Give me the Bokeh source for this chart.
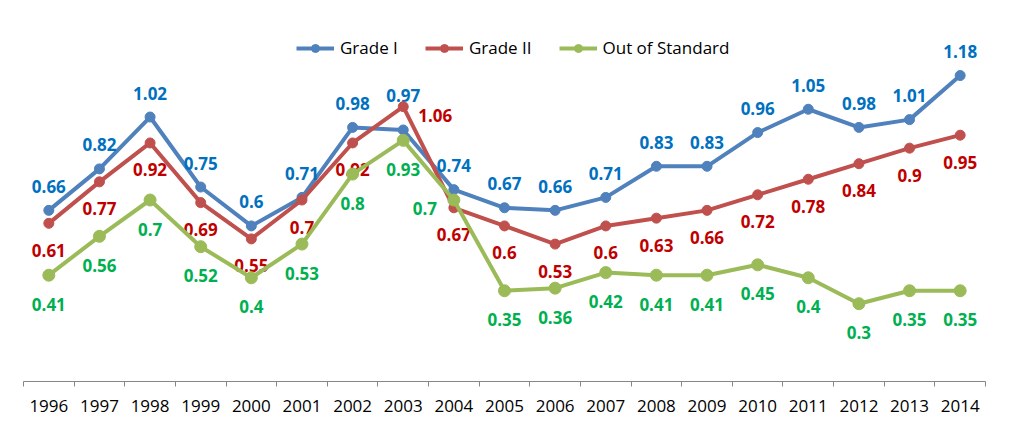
from bokeh.plotting import figure
from bokeh.models import Range1d, FixedTicker, ColumnDataSource, Legend, LegendItem
from bokeh.core.properties import value
from bokeh.embed import file_html
from bokeh.resources import INLINE

years = ["1996", "1997", "1998", "1999", "2000", "2001", "2002", "2003", "2004", "2005",
         "2006", "2007", "2008", "2009", "2010", "2011", "2012", "2013", "2014"]
grade_1 = [0.66, 0.82, 1.02, 0.75, 0.6, 0.71, 0.98, 0.97, 0.74, 0.67,
           0.66, 0.71, 0.83, 0.83, 0.96, 1.05, 0.98, 1.01, 1.18]
grade_2 = [0.61, 0.77, 0.92, 0.69, 0.55, 0.7, 0.92, 1.06, 0.67, 0.6,
           0.53, 0.6, 0.63, 0.66, 0.72, 0.78, 0.84, 0.9, 0.95]
out_std = [0.41, 0.56, 0.7, 0.52, 0.4, 0.53, 0.8, 0.93, 0.7, 0.35,
           0.36, 0.42, 0.41, 0.41, 0.45, 0.4, 0.3, 0.35, 0.35]

FONT = "Open Sans"
n = len(years)
xs = [i + 0.5 for i in range(n)]

p = figure(width=1009, height=438, x_range=Range1d(0, n), y_range=Range1d(0, 1.4),
           output_backend="svg", toolbar_location=None, y_axis_location=None,
           min_border_left=23, min_border_right=24, min_border_top=18, min_border_bottom=57)
p.xgrid.visible = False
p.ygrid.visible = False
p.outline_line_color = None

ax = p.xaxis[0]
ax.ticker = FixedTicker(ticks=xs, minor_ticks=list(range(n + 1)))
ax.major_label_overrides = {x: y for x, y in zip(xs, years)}
ax.major_tick_in = 0
ax.major_tick_out = 0
ax.minor_tick_in = 0
ax.minor_tick_out = 5
ax.minor_tick_line_color = "#868686"
ax.axis_line_color = "#868686"
ax.major_label_text_font = FONT
ax.major_label_text_font_size = "17px"
ax.major_label_text_color = "#000000"
ax.major_label_standoff = 13

series = [
    ("Grade I", grade_1, "#4F81BD", "#0070C0", 10),
    ("Grade II", grade_2, "#C0504D", "#C00000", 10),
    ("Out of Standard", out_std, "#9BBB59", "#00B050", 12),
]
# label placement (screen px offsets)
default_dy = {"Grade I": -24, "Grade II": 27, "Out of Standard": 29}
special = {("Grade I", "2003"): (0, -34),
           ("Grade II", "2003"): (32, 9),
           ("Out of Standard", "2004"): (-29, 8)}

items = []
for name, vals, lc, tc, ms in series:
    dx = []
    dy = []
    for yr in years:
        ox, oy = special.get((name, yr), (0, default_dy[name]))
        dx.append(ox)
        dy.append(oy)
    src = ColumnDataSource(dict(x=xs, y=vals, t=[f"{v:g}" for v in vals], dx=dx, dy=dy))
    r1 = p.line("x", "y", source=src, line_color=lc, line_width=4)
    r2 = p.scatter("x", "y", source=src, size=ms, fill_color=lc, line_color=lc)
    items.append(LegendItem(label=name, renderers=[r1, r2]))
    p.text("x", "y", text="t", source=src, x_offset="dx", y_offset="dy",
           text_color=tc, text_font=value(FONT), text_font_size="17px",
           text_font_style="bold", text_align="center", text_baseline="middle")

legend = Legend(items=items, orientation="horizontal", location=(273, 322),
                border_line_color=None, background_fill_alpha=0,
                label_text_font=FONT, label_text_font_size="17px",
                label_text_color="#000000", glyph_width=38, glyph_height=20,
                label_standoff=6, spacing=27, padding=5, margin=0)
p.add_layout(legend, "center")

open("out.html", "w").write(file_html(p, INLINE))
